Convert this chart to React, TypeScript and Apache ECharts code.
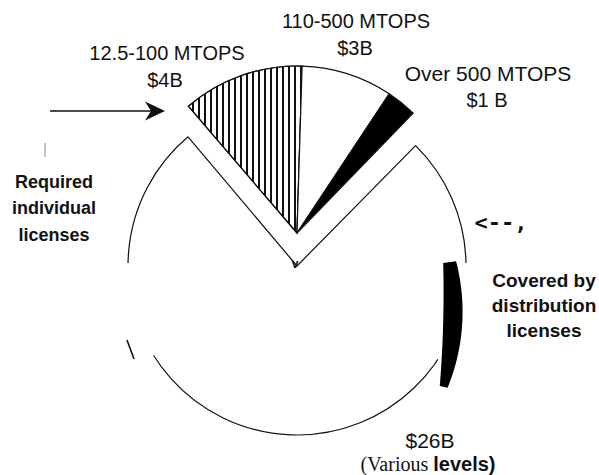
import React, { useEffect, useRef } from "react";
import * as echarts from "echarts";

// ---- data ----
const categories = ["12.5-100 MTOPS", "110-500 MTOPS", "Over 500 MTOPS", "Various levels"];
const values = [4, 3, 1, 26];
const valueLabels = ["$4B", "$3B", "$1 B", "$26B"];
const groupLabels = ["Required\nindividual\nlicenses", "Covered by\ndistribution\nlicenses"];

const SANS = "'Liberation Sans', Arial, Helvetica, sans-serif";
const SERIF = "'Liberation Serif', 'Times New Roman', serif";
const INK = "#111";

export default function App() {
  const ref = useRef<HTMLDivElement>(null);

  useEffect(() => {
    if (!ref.current) return;
    const chart = echarts.init(ref.current, null, { renderer: "svg" });

    const explodedTotal = values.slice(0, 3).reduce((a, b) => a + b, 0);
    const mainC = [297, 266];
    const mainR = 169;
    const expC = [297, 233];
    const expR = 167;

    const hatch = {
      symbol: "rect",
      symbolSize: 1,
      color: INK,
      backgroundColor: "#fff",
      dashArrayX: [1.4, 4.0],
      dashArrayY: [1, 0],
      rotation: 0,
    };
    const border = { borderColor: INK, borderWidth: 1.2 };
    const sliceStyles: any[] = [
      { color: "#fff", decal: hatch },
      { color: "#fff" },
      { color: "#000" },
    ];
    const hidden = { color: "transparent", borderWidth: 0 };

    const explodedData = [
      ...values.slice(0, 3).map((v, i) => ({
        name: categories[i],
        value: v,
        itemStyle: { ...sliceStyles[i], ...border },
      })),
      { name: "rest", value: values[3], itemStyle: hidden },
    ];
    const mainData = [
      { name: "exploded", value: explodedTotal, itemStyle: hidden },
      { name: categories[3], value: values[3], itemStyle: { color: "#fff", ...border } },
    ];

    const deg = Math.PI / 180;

    // crescent bracket ("covered by distribution licenses")
    const bc = [124, 309];
    const br = 329;
    const a0 = -8.2, a1 = 13.7;
    const outer: number[][] = [];
    const inner: number[][] = [];
    const N = 30;
    for (let k = 0; k <= N; k++) {
      const t = k / N;
      const a = (a0 + (a1 - a0) * t) * deg;
      const w = 13 * (1 - t) + 8 * t + 34 * t * (1 - t);
      outer.push([bc[0] + (br + w / 2) * Math.cos(a), bc[1] + (br + w / 2) * Math.sin(a)]);
      inner.push([bc[0] + (br - w / 2) * Math.cos(a), bc[1] + (br - w / 2) * Math.sin(a)]);
    }
    const crescent = outer.concat(inner.reverse());

    const txt = (text: string, x: number, y: number, font: string, extra: any = {}) => ({
      type: "text",
      z: 120,
      silent: true,
      style: {
        text,
        x,
        y,
        fill: INK,
        font,
        align: "center",
        verticalAlign: "middle",
        ...extra,
      },
    });

    const option: any = {
      animation: false,
      backgroundColor: "#fff",
      series: [
        {
          type: "pie",
          center: mainC,
          radius: [0, mainR],
          startAngle: 130.15,
          clockwise: true,
          data: mainData,
          label: { show: false },
          labelLine: { show: false },
          silent: true,
          avoidLabelOverlap: false,
          emphasis: { disabled: true },
          z: 2,
        },
        {
          type: "pie",
          center: expC,
          radius: [0, expR],
          startAngle: 130.6,
          clockwise: true,
          data: explodedData,
          label: { show: false },
          labelLine: { show: false },
          silent: true,
          avoidLabelOverlap: false,
          emphasis: { disabled: true },
          z: 3,
        },
      ],
      graphic: {
        elements: [
          // gaps in the scanned outline of the main slice
          {
            type: "arc",
            z: 100,
            silent: true,
            shape: { cx: mainC[0], cy: mainC[1], r: mainR, startAngle: 148 * deg, endAngle: 181 * deg, clockwise: true },
            style: { stroke: "#fff", lineWidth: 4, fill: null },
          },
          {
            type: "arc",
            z: 100,
            silent: true,
            shape: { cx: mainC[0], cy: mainC[1], r: mainR, startAngle: -1 * deg, endAngle: 33.5 * deg, clockwise: true },
            style: { stroke: "#fff", lineWidth: 4, fill: null },
          },
          {
            type: "polygon",
            z: 110,
            silent: true,
            shape: { points: crescent },
            style: { fill: "#000" },
          },
          // arrow pointing at the exploded slices
          {
            type: "line",
            z: 110,
            silent: true,
            shape: { x1: 50, y1: 111, x2: 155, y2: 111 },
            style: { stroke: INK, lineWidth: 1.5 },
          },
          {
            type: "polygon",
            z: 110,
            silent: true,
            shape: { points: [[165, 111], [145, 101.5], [151, 111], [145, 120.5]] },
            style: { fill: INK },
          },
          // stray scan marks
          {
            type: "line",
            z: 110,
            silent: true,
            shape: { x1: 45, y1: 143, x2: 45, y2: 157 },
            style: { stroke: "#999", lineWidth: 1.2 },
          },
          {
            type: "line",
            z: 110,
            silent: true,
            shape: { x1: 127, y1: 340, x2: 134, y2: 359 },
            style: { stroke: INK, lineWidth: 1.6 },
          },
          // slice labels
          txt(categories[0], 167, 53, `20px ${SANS}`),
          txt(valueLabels[0], 165, 80, `20px ${SANS}`),
          txt(categories[1], 356, 21, `20px ${SANS}`),
          txt(valueLabels[1], 355, 48, `20px ${SANS}`),
          txt(categories[2], 488, 73, `21px ${SANS}`),
          txt(valueLabels[2], 487, 100, `20px ${SANS}`),
          txt(valueLabels[3], 430, 440, `21px ${SANS}`),
          {
            type: "text",
            z: 120,
            silent: true,
            style: {
              text: "{a|(Various }{b|levels)}",
              x: 428,
              y: 464,
              align: "center",
              verticalAlign: "middle",
              rich: {
                a: { font: `20px ${SERIF}`, fill: INK },
                b: { font: `bold 20px ${SANS}`, fill: INK },
              },
            },
          },
          txt(groupLabels[0], 54, 208, `bold 18px ${SANS}`, { lineHeight: 26.5 }),
          txt(groupLabels[1], 544, 305, `bold 19px ${SANS}`, { lineHeight: 25 }),
          txt("<--,", 501, 222, `bold 22px 'DejaVu Sans Mono', monospace`),
          txt("v", 295, 264, `bold 12px ${SANS}`),
        ],
      },
    };

    chart.setOption(option);
    return () => chart.dispose();
  }, []);

  return (
    <div
      ref={ref}
      style={{ position: "absolute", left: 0, top: 0, width: 599, height: 475, background: "#fff" }}
    />
  );
}
